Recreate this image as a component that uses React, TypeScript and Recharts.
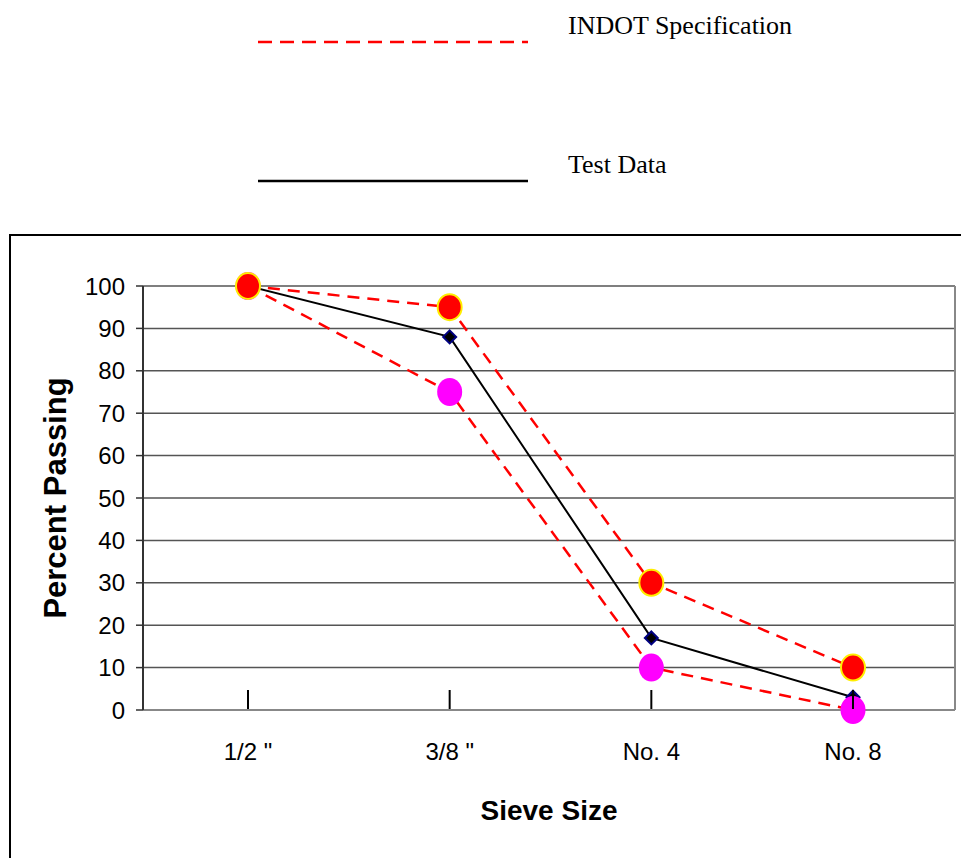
import { LineChart, Line, XAxis, YAxis, CartesianGrid } from 'recharts';

const SIEVES = ['1/2 "', '3/8 "', 'No. 4', 'No. 8'];
const SPEC_UPPER = [100, 95, 30, 10];
const SPEC_LOWER = [100, 75, 10, 0];
const TEST_DATA = [100, 88, 17, 3];
const Y_TICKS = [0, 10, 20, 30, 40, 50, 60, 70, 80, 90, 100];

const rows = SIEVES.map((sieve, i) => ({
  sieve,
  upper: SPEC_UPPER[i],
  lower: SPEC_LOWER[i],
  test: TEST_DATA[i],
}));

const AXIS_FONT = 'Arial, "Liberation Sans", sans-serif';
const SERIF = '"Times New Roman", "Liberation Serif", serif';

function UpperDot(props: any) {
  const { cx, cy, index } = props;
  return (
    <ellipse key={`u-${index}`} cx={cx} cy={cy} rx={12} ry={13} fill="#ff0000" stroke="#ffee00" strokeWidth={2} />
  );
}

function LowerDot(props: any) {
  const { cx, cy, index } = props;
  return <ellipse key={`l-${index}`} cx={cx} cy={cy} rx={12.5} ry={14} fill="#ff00ff" />;
}

function Diamond(props: any) {
  const { cx, cy, index } = props;
  const s = 6.5;
  return (
    <polygon
      key={`t-${index}`}
      points={`${cx},${cy - s} ${cx + s},${cy} ${cx},${cy + s} ${cx - s},${cy}`}
      fill="#000000"
      stroke="#000080"
      strokeWidth={2}
    />
  );
}

function SieveTick(props: any) {
  const { x, y, payload } = props;
  return (
    <g>
      <line x1={x} y1={y - 20} x2={x} y2={y - 1} stroke="#000" strokeWidth={2} />
      <text x={x} y={y + 50} textAnchor="middle" fontSize={24} fill="#000" fontFamily={AXIS_FONT}>
        {payload.value}
      </text>
    </g>
  );
}

export default function App() {
  return (
    <div style={{ position: 'fixed', left: 0, top: 0, width: 961, height: 858, overflow: 'hidden', background: '#fff' }}>
      {/* legend, drawn by hand like the original's floating legend */}
      <svg width={961} height={220} style={{ position: 'absolute', left: 0, top: 0 }}>
        <line x1={258} y1={42} x2={528} y2={42} stroke="#ff0000" strokeWidth={2.5} strokeDasharray="14 8" />
        <text x={568} y={34} fontSize={26} fontFamily={SERIF} fill="#000">INDOT Specification</text>
        <line x1={258} y1={181} x2={528} y2={181} stroke="#000" strokeWidth={2.5} />
        <text x={568} y={173} fontSize={26} fontFamily={SERIF} fill="#000">Test Data</text>
      </svg>

      <div
        style={{
          position: 'absolute',
          left: 9,
          top: 234,
          width: 1000,
          height: 700,
          border: '2px solid #000',
        }}
      />

      <div style={{ position: 'absolute', left: 0, top: 0 }}>
        <LineChart
          width={961}
          height={858}
          data={rows}
          margin={{ top: 286, right: 0, bottom: 0, left: 0 }}
          style={{ fontFamily: AXIS_FONT }}
        >
          <CartesianGrid vertical={false} stroke="#555" strokeWidth={1.5} />
          <XAxis
            dataKey="sieve"
            height={148}
            padding={{ left: 105, right: 102 }}
            tickSize={0}
            tickMargin={0}
            tickLine={false}
            tick={<SieveTick />}
            axisLine={{ stroke: '#888', strokeWidth: 2 }}
            label={{
              value: 'Sieve Size',
              position: 'insideBottom',
              offset: 38,
              style: { fontSize: 28, fontWeight: 'bold', fill: '#000', fontFamily: AXIS_FONT },
            }}
          />
          <YAxis
            domain={[0, 100]}
            ticks={Y_TICKS}
            width={143}
            interval={0}
            tickSize={7}
            tickMargin={11}
            tickLine={{ stroke: '#333', strokeWidth: 1.5 }}
            axisLine={{ stroke: '#333', strokeWidth: 2 }}
            tick={{ fontSize: 24, fill: '#000', fontFamily: AXIS_FONT }}
            label={{
              value: 'Percent Passing',
              angle: -90,
              position: 'insideLeft',
              offset: 55,
              style: { textAnchor: 'middle', fontSize: 31, fontWeight: 'bold', fill: '#000', fontFamily: AXIS_FONT },
            }}
          />
          <YAxis
            yAxisId="frame"
            orientation="right"
            width={6}
            domain={[0, 100]}
            tick={false}
            tickLine={false}
            axisLine={{ stroke: '#888', strokeWidth: 2 }}
          />
          <Line
            dataKey="test"
            stroke="#000"
            strokeWidth={2}
            dot={<Diamond />}
            activeDot={false}
            isAnimationActive={false}
          />
          <Line
            dataKey="lower"
            stroke="#ff0000"
            strokeWidth={2.5}
            strokeDasharray="12 8"
            dot={<LowerDot />}
            activeDot={false}
            isAnimationActive={false}
          />
          <Line
            dataKey="upper"
            stroke="#ff0000"
            strokeWidth={2.5}
            strokeDasharray="12 8"
            dot={<UpperDot />}
            activeDot={false}
            isAnimationActive={false}
          />
        </LineChart>
      </div>
    </div>
  );
}
